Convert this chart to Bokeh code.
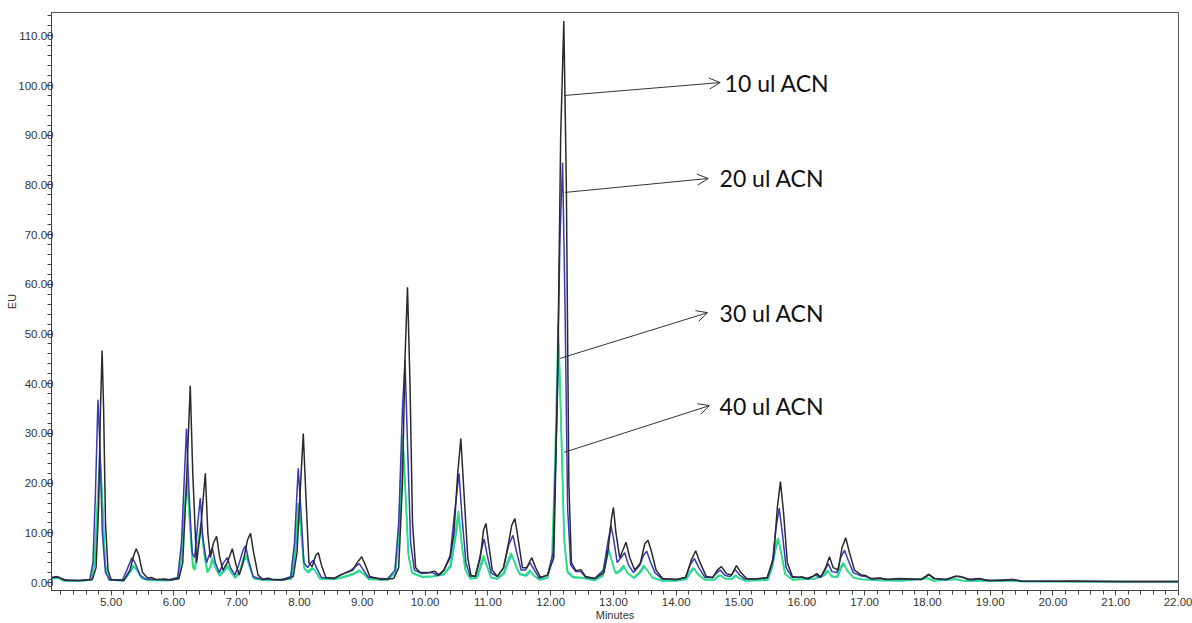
from bokeh.plotting import figure
from bokeh.models import Range1d, FixedTicker, Arrow, OpenHead, Label, NumeralTickFormatter
from bokeh.embed import file_html
from bokeh.resources import INLINE

# ---- chromatogram traces (minutes, EU) ----
t_10 = [4.05, 4.12, 4.18, 4.25, 4.5, 4.70, 4.76, 4.80, 4.83, 4.856, 4.88, 4.91, 4.95, 5.00, 5.20, 5.30, 5.36, 5.40, 5.44, 5.50,
        5.58, 5.65, 5.72, 5.85, 5.95, 6.08, 6.14, 6.20, 6.26, 6.30, 6.36, 6.42, 6.50, 6.54, 6.58, 6.63, 6.68, 6.73, 6.78, 6.85,
        6.93, 6.98, 7.04, 7.10, 7.17, 7.22, 7.27, 7.34, 7.42, 7.50, 7.56, 7.75, 7.90, 7.96, 8.01, 8.06, 8.10, 8.15, 8.20, 8.26,
        8.30, 8.35, 8.42, 8.55, 8.65, 8.75, 8.85, 8.92, 8.99, 9.05, 9.12, 9.30, 9.50, 9.58, 9.64, 9.68, 9.72, 9.76, 9.80, 9.85,
        9.92, 10.05, 10.15, 10.22, 10.30, 10.40, 10.46, 10.52, 10.57, 10.62, 10.68, 10.73, 10.80, 10.88, 10.93, 10.97, 11.01, 11.07, 11.15, 11.25,
        11.33, 11.38, 11.43, 11.48, 11.55, 11.62, 11.70, 11.76, 11.84, 11.95, 12.05, 12.11, 12.16, 12.21, 12.25, 12.29, 12.33, 12.40, 12.48, 12.56,
        12.70, 12.85, 12.92, 12.97, 13.00, 13.04, 13.10, 13.15, 13.20, 13.26, 13.34, 13.43, 13.50, 13.55, 13.60, 13.68, 13.78, 14.00, 14.15, 14.24,
        14.31, 14.38, 14.48, 14.58, 14.66, 14.72, 14.80, 14.88, 14.96, 15.03, 15.12, 15.25, 15.45, 15.55, 15.61, 15.66, 15.71, 15.77, 15.85, 15.95,
        16.00, 16.08, 16.18, 16.24, 16.30, 16.38, 16.44, 16.50, 16.58, 16.64, 16.70, 16.76, 16.84, 16.95, 17.02, 17.10, 17.25, 17.35, 17.55, 17.75,
        17.90, 18.03, 18.12, 18.30, 18.45, 18.53, 18.65, 18.82, 18.95, 19.20, 19.35, 19.50, 20.00, 20.30, 21.00, 22.00]
eu_10 = [0.9, 1.1, 1.0, 0.5, 0.4, 0.6, 3, 15, 35, 46.7, 35, 12, 2.5, 0.6, 0.4, 2.5, 5.5, 6.8, 5.5, 2,
         0.9, 1.0, 0.6, 0.7, 0.5, 0.8, 4, 20, 39.6, 22, 4, 10, 22, 10, 5, 8, 9.3, 5, 2.5, 4,
         6.8, 4, 1.5, 4, 8.5, 9.9, 6, 1.5, 0.6, 0.9, 0.6, 0.5, 1.2, 6, 18, 30, 18, 4, 3.2, 5.5,
         6, 3.5, 1, 0.8, 1.5, 2, 2.5, 4, 5.2, 3.5, 1.2, 0.6, 0.8, 3, 20, 45, 59.4, 40, 12, 3,
         2, 2, 2.3, 1.5, 2.5, 5, 10, 22, 29, 18, 5, 1.5, 1.2, 5, 10.5, 11.9, 8, 2.5, 1.2, 3,
         8, 11.5, 12.9, 9, 3, 3, 5, 3, 1, 1.5, 5, 40, 90, 113, 80, 20, 4, 2.4, 2.6, 1.2,
         0.8, 2, 7, 13, 15.1, 10, 5, 6.5, 8.1, 5, 2.5, 4, 7.8, 8.5, 6.5, 2.5, 0.8, 0.6, 1, 4.5,
         6.4, 4, 1.2, 1, 2.6, 3.2, 1.8, 1.5, 3.4, 2, 0.8, 0.7, 1, 5, 15, 20.3, 14, 4, 1.2, 1,
         1.1, 0.8, 1.3, 1.8, 1.1, 3, 5.2, 3, 2.5, 7, 9, 6, 2.5, 1.5, 1.4, 0.8, 0.9, 0.6, 0.8, 0.7,
         0.6, 1.6, 0.8, 0.6, 1.2, 1.2, 0.6, 0.8, 0.4, 0.4, 0.6, 0.3, 0.25, 0.3, 0.2, 0.2]

t_20 = [4.05, 4.14, 4.20, 4.30, 4.50, 4.66, 4.71, 4.75, 4.79, 4.82, 4.86, 4.91, 4.98, 5.18, 5.25, 5.33, 5.38, 5.46, 5.55, 5.70,
        5.90, 6.06, 6.12, 6.20, 6.24, 6.29, 6.33, 6.38, 6.42, 6.46, 6.52, 6.56, 6.61, 6.66, 6.72, 6.79, 6.85, 6.90, 6.97, 7.03,
        7.10, 7.14, 7.19, 7.26, 7.40, 7.48, 7.70, 7.86, 7.92, 7.98, 8.02, 8.07, 8.13, 8.18, 8.22, 8.27, 8.35, 8.55, 8.70, 8.82,
        8.95, 9.02, 9.10, 9.40, 9.52, 9.58, 9.64, 9.68, 9.72, 9.77, 9.83, 9.95, 10.12, 10.20, 10.30, 10.40, 10.47, 10.54, 10.59, 10.65,
        10.72, 10.80, 10.87, 10.94, 10.99, 11.05, 11.15, 11.25, 11.33, 11.40, 11.46, 11.53, 11.60, 11.67, 11.74, 11.82, 11.95, 12.04, 12.10, 12.15,
        12.19, 12.23, 12.27, 12.32, 12.40, 12.48, 12.56, 12.70, 12.84, 12.91, 12.96, 13.00, 13.06, 13.12, 13.18, 13.24, 13.32, 13.42, 13.48, 13.53,
        13.58, 13.66, 13.78, 14.00, 14.15, 14.22, 14.29, 14.36, 14.46, 14.58, 14.65, 14.70, 14.78, 14.86, 14.94, 15.01, 15.10, 15.25, 15.45, 15.53,
        15.59, 15.64, 15.69, 15.75, 15.85, 16.00, 16.10, 16.22, 16.30, 16.37, 16.42, 16.48, 16.56, 16.62, 16.68, 16.74, 16.82, 16.95, 17.02, 17.12,
        17.25, 17.40, 17.60, 17.90, 18.02, 18.10, 18.30, 18.45, 18.55, 18.70, 18.85, 19.00, 19.35, 19.50, 20.00, 21.00, 22.00]
eu_20 = [1.0, 1.2, 0.9, 0.4, 0.4, 0.6, 4, 18, 36.8, 28, 10, 2, 0.5, 0.5, 2.5, 5, 4, 1.5, 0.7, 0.6,
         0.5, 1, 8, 31, 18, 6, 5, 12, 17, 9, 4, 5.5, 7, 4, 2, 4, 5, 3, 1.5, 3.5,
         6.5, 7.4, 4.5, 1.2, 0.6, 0.7, 0.5, 1.2, 8, 23, 15, 4, 3, 4, 4.5, 3, 1, 0.9, 1.8, 2.5,
         3.8, 2.5, 1, 0.7, 2.5, 12, 35, 44.7, 28, 8, 2.5, 1.8, 2, 1.4, 2.5, 5.5, 14, 22, 13, 4,
         1.2, 1.3, 5, 8.8, 5.5, 2, 1.2, 3, 7.5, 9.5, 6, 2.5, 2.5, 4, 2.5, 0.9, 1.5, 6, 35, 70,
         84.5, 55, 15, 3.5, 2.2, 2.2, 1, 0.8, 2.5, 8, 11.5, 9, 4, 5, 6, 3.5, 2, 3.5, 5.5, 6.3,
         4.5, 2, 0.7, 0.6, 1, 3.5, 4.8, 3, 1, 1, 2, 2.5, 1.4, 1.2, 2.6, 1.5, 0.7, 0.7, 0.9, 4,
         11, 15, 10, 3, 1, 1.1, 0.7, 1.5, 1, 2.5, 3.8, 2.2, 2, 5, 6.5, 4.5, 2, 1.3, 1.2, 0.7,
         0.8, 0.6, 0.7, 0.6, 1.7, 0.8, 0.6, 1.3, 1.1, 0.5, 0.7, 0.4, 0.6, 0.3, 0.25, 0.2, 0.2]

t_30 = [4.05, 4.15, 4.25, 4.50, 4.68, 4.73, 4.78, 4.82, 4.86, 4.90, 4.96, 5.20, 5.28, 5.35, 5.40, 5.48, 5.60, 5.90, 6.06, 6.12,
        6.18, 6.21, 6.25, 6.30, 6.33, 6.38, 6.43, 6.48, 6.53, 6.57, 6.61, 6.66, 6.72, 6.79, 6.85, 6.90, 6.97, 7.05, 7.11, 7.15,
        7.20, 7.27, 7.50, 7.86, 7.92, 7.98, 8.02, 8.07, 8.13, 8.20, 8.24, 8.32, 8.55, 8.70, 8.85, 8.95, 9.02, 9.10, 9.40, 9.52,
        9.58, 9.64, 9.68, 9.73, 9.79, 9.95, 10.12, 10.30, 10.40, 10.47, 10.53, 10.58, 10.64, 10.72, 10.82, 10.88, 10.93, 10.98, 11.05, 11.15,
        11.25, 11.32, 11.37, 11.43, 11.50, 11.60, 11.67, 11.73, 11.82, 11.95, 12.02, 12.07, 12.12, 12.16, 12.21, 12.26, 12.35, 12.50, 12.70, 12.82,
        12.88, 12.92, 12.97, 13.03, 13.10, 13.16, 13.22, 13.32, 13.42, 13.48, 13.54, 13.62, 13.78, 14.00, 14.15, 14.22, 14.27, 14.34, 14.45, 14.60,
        14.66, 14.70, 14.78, 14.88, 14.94, 15.00, 15.10, 15.45, 15.52, 15.58, 15.62, 15.67, 15.73, 15.85, 16.00, 16.20, 16.35, 16.41, 16.47, 16.56,
        16.62, 16.66, 16.72, 16.82, 16.95, 17.20, 17.60, 18.00, 18.10, 18.45, 18.60, 19.35, 19.50, 20.00, 22.00]
eu_30 = [0.8, 1.0, 0.4, 0.3, 0.5, 4, 16, 25.5, 16, 4, 0.6, 0.4, 2, 3.5, 2.8, 1, 0.5, 0.4, 0.8, 6,
         17, 21, 12, 3, 2.5, 8, 12, 6, 2, 3, 5, 3, 1.5, 2.5, 3.5, 2.2, 1, 2.5, 5, 5.5,
         3.5, 0.8, 0.5, 0.8, 6, 16, 11, 3, 2.2, 3, 2.6, 0.8, 0.7, 1.2, 1.8, 2.5, 1.8, 0.7, 0.5, 2,
         10, 29.8, 20, 6, 2, 1.2, 1.3, 1.8, 3.5, 9, 14.5, 8, 2.5, 0.8, 1, 3.5, 5.5, 3.5, 1, 0.8,
         2, 4.5, 6, 4, 1.8, 1.5, 2.5, 1.5, 0.6, 1, 5, 25, 52.3, 35, 10, 2.5, 1.2, 1, 0.5, 1.5,
         5, 7, 4.5, 2, 2.5, 3.5, 2, 1, 2.2, 3.5, 2.5, 1, 0.4, 0.4, 0.7, 2.2, 3, 1.8, 0.6, 0.6,
         1.3, 1.5, 0.8, 0.8, 1.5, 0.9, 0.4, 0.6, 3, 7.5, 9, 6, 1.8, 0.6, 0.7, 0.8, 1.5, 2.5, 1.3, 1.2,
         3.2, 4, 2.5, 1, 0.7, 0.5, 0.4, 0.9, 0.4, 0.7, 0.3, 0.4, 0.2, 0.2, 0.15]

t_40 = [4.05, 4.15, 4.25, 4.50, 4.69, 4.74, 4.79, 4.83, 4.87, 4.91, 4.97, 5.20, 5.29, 5.36, 5.41, 5.49, 5.60, 5.90, 6.07, 6.13,
        6.19, 6.22, 6.26, 6.31, 6.34, 6.39, 6.44, 6.49, 6.54, 6.58, 6.62, 6.67, 6.73, 6.80, 6.86, 6.91, 6.98, 7.06, 7.12, 7.16,
        7.21, 7.28, 7.50, 7.87, 7.93, 7.99, 8.03, 8.08, 8.14, 8.21, 8.25, 8.33, 8.55, 8.70, 8.85, 8.96, 9.03, 9.11, 9.40, 9.53,
        9.59, 9.65, 9.69, 9.74, 9.80, 9.95, 10.12, 10.30, 10.41, 10.48, 10.54, 10.59, 10.65, 10.73, 10.83, 10.89, 10.94, 10.99, 11.06, 11.15,
        11.26, 11.33, 11.38, 11.44, 11.51, 11.61, 11.68, 11.74, 11.83, 11.95, 12.03, 12.08, 12.13, 12.17, 12.22, 12.27, 12.36, 12.50, 12.70, 12.83,
        12.89, 12.93, 12.98, 13.04, 13.11, 13.17, 13.23, 13.33, 13.43, 13.49, 13.55, 13.63, 13.78, 14.00, 14.16, 14.23, 14.28, 14.35, 14.46, 14.60,
        14.67, 14.71, 14.79, 14.89, 14.95, 15.01, 15.11, 15.46, 15.53, 15.59, 15.63, 15.68, 15.74, 15.86, 16.00, 16.20, 16.36, 16.42, 16.48, 16.57,
        16.63, 16.67, 16.73, 16.83, 16.96, 17.20, 17.60, 18.01, 18.10, 18.46, 18.60, 19.36, 19.50, 20.00, 22.00]
eu_40 = [0.7, 0.9, 0.3, 0.3, 0.5, 4, 16, 24, 14, 3, 0.5, 0.3, 1.8, 3.2, 2.5, 0.8, 0.4, 0.4, 0.7, 6,
         17, 20, 11, 3, 2.8, 8, 11, 5, 2.2, 3, 4.5, 2.8, 1.3, 2.3, 3.2, 2, 0.9, 2.3, 4.6, 5,
         3, 0.7, 0.4, 0.7, 5.5, 15, 10, 2.8, 2, 2.8, 2.4, 0.7, 0.6, 1, 1.6, 2.3, 1.6, 0.6, 0.5, 2,
         10, 28, 18, 5, 1.8, 1.1, 1.2, 1.6, 3.2, 8.5, 13.5, 7, 2.2, 0.7, 0.9, 3.2, 5, 3.2, 0.9, 0.7,
         1.8, 4.2, 5.5, 3.6, 1.6, 1.3, 2.2, 1.3, 0.5, 0.9, 5, 25, 48, 30, 8, 2, 1, 0.9, 0.4, 1.3,
         4.6, 6.5, 4, 1.8, 2.2, 3.2, 1.8, 0.9, 2, 3.2, 2.3, 0.9, 0.3, 0.3, 0.6, 2, 2.8, 1.6, 0.5, 0.5,
         1.2, 1.4, 0.7, 0.7, 1.4, 0.8, 0.3, 0.5, 3, 7, 8.5, 5.5, 1.6, 0.5, 0.6, 0.7, 1.4, 2.3, 1.2, 1.1,
         3, 3.7, 2.3, 0.9, 0.6, 0.4, 0.3, 0.8, 0.3, 0.6, 0.3, 0.3, 0.2, 0.15, 0.1]

# ---- annotations ----
ann_labels = ["10 ul ACN", "20 ul ACN", "30 ul ACN", "40 ul ACN"]
ann_from_t = [12.215, 12.23, 12.15, 12.215]
ann_from_eu = [98.0, 78.5, 45.1, 26.2]
ann_to_t = [14.70, 14.51, 14.50, 14.53]
ann_to_eu = [100.6, 81.3, 54.3, 35.6]
ann_text_t = [14.77, 14.69, 14.69, 14.69]

x_major = [5, 6, 7, 8, 9, 10, 11, 12, 13, 14, 15, 16, 17, 18, 19, 20, 21, 22]
y_major = [0, 10, 20, 30, 40, 50, 60, 70, 80, 90, 100, 110]

p = figure(width=1192, height=623, output_backend="svg", toolbar_location=None,
           x_range=Range1d(4.05, 22.0), y_range=Range1d(-1.6, 114.7),
           min_border_left=51, min_border_right=14, min_border_top=12, min_border_bottom=33,
           background_fill_color="white", border_fill_color="white")
p.grid.visible = False
p.outline_line_color = "#555555"
p.outline_line_width = 1

p.line(t_40, eu_40, line_color="#22c4c4", line_width=1.6)
p.line(t_30, eu_30, line_color="#2fe07c", line_width=1.6)
p.line(t_20, eu_20, line_color="#3838b8", line_width=1.5)
p.line(t_10, eu_10, line_color="#2a2a2a", line_width=1.5)

for lab, x0, y0, x1, y1, xt in zip(ann_labels, ann_from_t, ann_from_eu, ann_to_t, ann_to_eu, ann_text_t):
    p.add_layout(Arrow(x_start=x0, y_start=y0, x_end=x1, y_end=y1,
                       line_color="#333333", line_width=1,
                       end=OpenHead(size=11, line_color="#333333", line_width=1)))
    p.add_layout(Label(x=xt, y=y1, text=lab, text_font="Lato", text_font_size="23px",
                       text_color="#111111", text_baseline="middle", text_align="left"))

p.xaxis.ticker = FixedTicker(ticks=x_major, minor_ticks=[round(4.2 + 0.2 * i, 1) for i in range(90)])
p.yaxis.ticker = FixedTicker(ticks=y_major, minor_ticks=[2 * i for i in range(58)])
p.xaxis.formatter = NumeralTickFormatter(format="0.00")
p.yaxis.formatter = NumeralTickFormatter(format="0.00")

for ax in (p.xaxis[0], p.yaxis[0]):
    ax.axis_line_color = "#444444"
    ax.major_tick_line_color = "#444444"
    ax.minor_tick_line_color = "#444444"
    ax.major_tick_out = 5
    ax.major_tick_in = 0
    ax.minor_tick_out = 4
    ax.minor_tick_in = 0
    ax.major_label_text_font = "Liberation Sans"
    ax.major_label_text_font_size = "11.5px"
    ax.major_label_text_color = "#333333"
    ax.axis_label_text_font = "Liberation Sans"
    ax.axis_label_text_font_size = "11px"
    ax.axis_label_text_font_style = "normal"
    ax.axis_label_text_color = "#333333"

p.xaxis.axis_label = "Minutes"
p.yaxis.axis_label = "EU"
p.xaxis.major_label_standoff = 2
p.xaxis.axis_label_standoff = 0
p.yaxis.major_label_standoff = -7
p.yaxis.axis_label_standoff = -3

open("out.html", "w").write(file_html(p, INLINE))
